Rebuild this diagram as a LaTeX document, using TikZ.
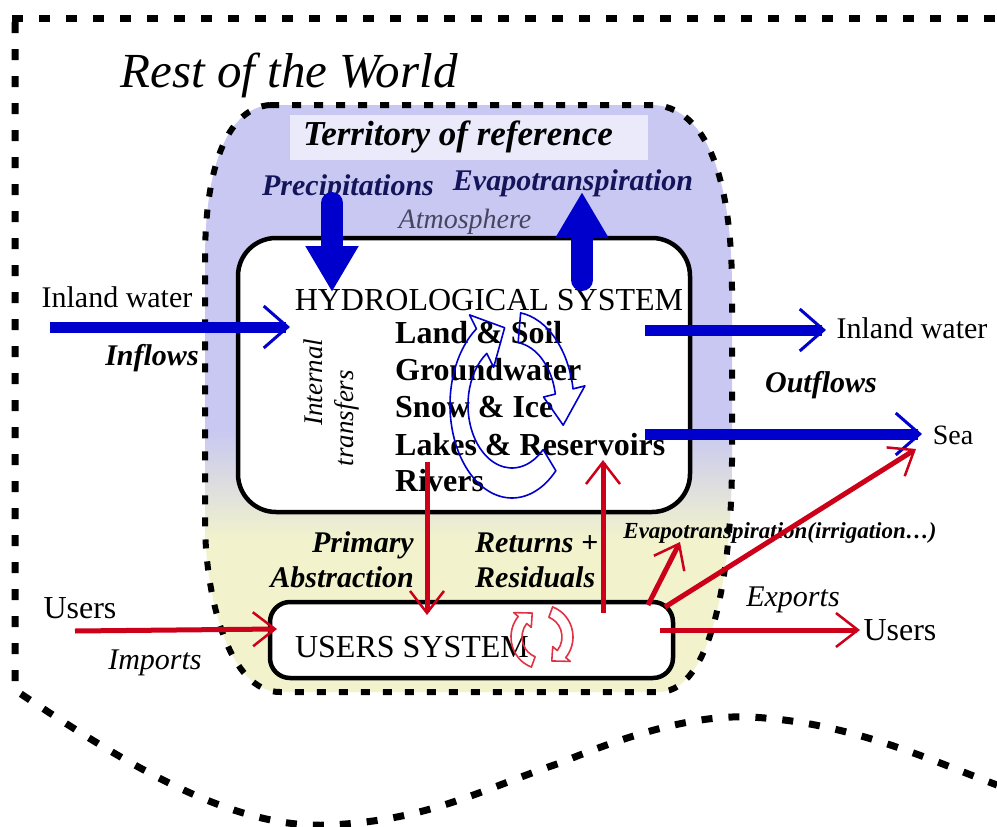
\documentclass[tikz,border=0pt]{standalone}
\usepackage{fontspec}
\setmainfont{Liberation Serif}
\usetikzlibrary{arrows.meta}
\definecolor{lav}{RGB}{200,200,242}
\definecolor{lavlight}{RGB}{234,234,250}
\definecolor{yel}{RGB}{242,243,204}
\definecolor{wblue}{RGB}{0,0,205}
\definecolor{wred}{RGB}{205,0,25}
\definecolor{navy}{RGB}{20,20,90}
\definecolor{atmc}{RGB}{70,70,95}
\definecolor{cycred}{RGB}{225,50,70}
\tikzset{
  txt/.style={inner sep=0pt, text=black},
  outerdash/.style={draw=black, line width=7pt, dash pattern=on 11pt off 16pt},
  terrdash/.style={draw=black, line width=6pt, dash pattern=on 9pt off 13pt},
  sysbox/.style={draw=black, line width=4.5pt, fill=white},
  bluearrow/.style={draw=wblue, line width=11pt, -{Straight Barb[length=24pt,width=42pt,line width=3pt]}},
  fatarrow/.style={draw=wblue, line width=22pt, line cap=round, -{Triangle[length=46pt,width=50pt]}},
  redarrow/.style={draw=wred, line width=5pt, -{Straight Barb[length=22pt,width=34pt,line width=2.5pt]}},
  cycb/.style={draw=wblue, line width=1.6pt, line join=round},
  cycr/.style={draw=cycred, line width=1.6pt, line join=round},
  flowlab/.style={txt, font=\fontsize{30}{35}\selectfont\bfseries\itshape},
  plainlab/.style={txt, font=\fontsize{30}{35}\selectfont},
  syslab/.style={txt, font=\fontsize{32}{36}\selectfont},
  complab/.style={txt, anchor=west, font=\fontsize{32}{36}\selectfont\bfseries},
}
\begin{document}
\begin{tikzpicture}[x=1pt,y=-1pt]
\useasboundingbox (0,0) rectangle (997,827);
\fill[white] (0,0) rectangle (997,827);

% outer boundary (rest of the world)
\draw[outerdash] (12,18) -- (997,18);
\draw[outerdash] (15,22) -- (15,690)
  .. controls (120,760) and (230,830) .. (330,825)
  .. controls (430,820) and (480,790) .. (560,763)
  .. controls (640,730) and (700,715) .. (750,717)
  .. controls (850,722) and (930,760) .. (997,785);

% territory of reference
\begin{scope}
\clip (270,105) -- (655,105) .. controls (715,110) and (732,200) .. (732,290) -- (732,460)
  .. controls (732,560) and (715,690) .. (660,692) -- (280,692)
  .. controls (230,692) and (205,600) .. (205,520) -- (205,260)
  .. controls (205,160) and (230,108) .. (270,105) -- cycle;
\fill[lav] (195,95) rectangle (745,430);
\shade[top color=lav, bottom color=yel] (195,430) rectangle (745,540);
\fill[yel] (195,540) rectangle (745,705);
\end{scope}
\draw[terrdash] (270,105) -- (655,105) .. controls (715,110) and (732,200) .. (732,290) -- (732,460)
  .. controls (732,560) and (715,690) .. (660,692) -- (280,692)
  .. controls (230,692) and (205,600) .. (205,520) -- (205,260)
  .. controls (205,160) and (230,108) .. (270,105) -- cycle;
\fill[lavlight] (290,115) rectangle (648,160);

% system boxes
\node[sysbox, rounded corners=38pt, minimum width=452pt, minimum height=274pt] (hydro) at (464,375) {};
\node[sysbox, rounded corners=20pt, minimum width=403pt, minimum height=76pt] (users) at (471.5,640) {};

% texts
\node[txt, font=\fontsize{49}{54}\selectfont\itshape] (rw) at (289,75) {Rest of the World};
\node[txt, font=\fontsize{35}{40}\selectfont\bfseries\itshape] (terr) at (458,137) {Territory of reference};
\node[txt, text=navy, font=\fontsize{30}{35}\selectfont\bfseries\itshape] (prec) at (348,188) {Precipitations};
\node[txt, text=navy, font=\fontsize{30}{35}\selectfont\bfseries\itshape] (evap) at (573,183) {Evapotranspiration};
\node[txt, text=atmc, font=\fontsize{28}{33}\selectfont\itshape] (atm) at (465,222) {Atmosphere};
\node[syslab] (hs) at (489,300) {HYDROLOGICAL SYSTEM};
\node[complab] (c1) at (395,333) {Land \& Soil};
\node[complab] (c2) at (395,370) {Groundwater};
\node[complab] (c3) at (395,407) {Snow \& Ice};
\node[complab] (c4) at (395,445) {Lakes \& Reservoirs};
\node[complab] (c5) at (395,481) {Rivers};
\node[txt, rotate=90, font=\fontsize{27}{32}\selectfont\itshape] (it1) at (313,382) {Internal};
\node[txt, rotate=90, font=\fontsize{27}{32}\selectfont\itshape] (it2) at (347,418) {transfers};
\node[plainlab] (inl) at (117,297) {Inland water};
\node[flowlab] (infl) at (152,358) {Inflows};
\node[plainlab] (inr) at (912,328) {Inland water};
\node[flowlab] (outf) at (821,385) {Outflows};
\node[txt, font=\fontsize{28}{33}\selectfont] (sea) at (953,435) {Sea};
\node[syslab] (us) at (412,647) {USERS SYSTEM};
\node[txt, font=\fontsize{32}{36}\selectfont] (usl) at (80,608) {Users};
\node[txt, font=\fontsize{30}{35}\selectfont\itshape] (imp) at (155,663) {Imports};
\node[txt, font=\fontsize{32}{36}\selectfont] (usr) at (900,630) {Users};
\node[txt, font=\fontsize{30}{35}\selectfont\itshape] (exp) at (793,600) {Exports};
\node[txt, font=\fontsize{23}{27}\selectfont\bfseries\itshape] (evirr) at (780,533) {Evapotranspiration(irrigation\ldots)};
\node[flowlab, anchor=east, align=right] (pa) at (414,560) {Primary\\Abstraction};
\node[flowlab, anchor=west, align=left] (rr) at (475,560) {Returns +\\Residuals};

% arrow end points
\coordinate (precS) at (332,203); \coordinate (precE) at (332,292);
\coordinate (evS) at (582,280); \coordinate (evE) at (582,192);
\coordinate (infS) at (50,327); \coordinate (infE) at (290,327);
\coordinate (outS) at (645,330); \coordinate (outE) at (826,330);
\coordinate (seaS) at (645,434); \coordinate (seaE) at (922,434);
\coordinate (paS) at (427,462); \coordinate (paE) at (427,615);
\coordinate (rrS) at (603,613); \coordinate (rrE) at (603,460);
\coordinate (eiS) at (648,605); \coordinate (eiE) at (680,542);
\coordinate (rsS) at (665,607); \coordinate (rsE) at (916,449);
\coordinate (expS) at (660,630); \coordinate (expE) at (860,630);
\coordinate (impS) at (75,631); \coordinate (impE) at (277,629);

% blue arrows
\draw[fatarrow] (precS) -- (precE);
\draw[fatarrow] (evS) -- (evE);
\draw[bluearrow] (infS) -- (infE);
\draw[bluearrow] (outS) -- (outE);
\draw[bluearrow] (seaS) -- (seaE);

% red arrows
\draw[redarrow] (paS) -- (paE);
\draw[redarrow] (rrS) -- (rrE);
\draw[redarrow] (eiS) -- (eiE);
\draw[redarrow] (rsS) -- (rsE);
\draw[redarrow] (expS) -- (expE);
\draw[redarrow] (impS) -- (impE);

% blue internal cycle
\begin{scope}[shift={(512,405)}]
\draw[cycb] (45:62 and 93) arc[start angle=45, end angle=235, x radius=62, y radius=93]
  -- (235:74 and 110) -- (262:53 and 78) -- (235:32 and 46) -- (235:44 and 63)
  arc[start angle=235, end angle=45, x radius=44, y radius=63] -- cycle;
\draw[cycb] (278:62 and 93) arc[start angle=278, end angle=350, x radius=62, y radius=93]
  -- (350:74 and 110) -- (15:53 and 78) -- (350:32 and 46) -- (350:44 and 63)
  arc[start angle=350, end angle=278, x radius=44, y radius=63] -- cycle;
\end{scope}

% red users cycle
\begin{scope}[shift={(542,637)}]
\draw[cycr] (110:31 and 32) arc[start angle=110, end angle=220, x radius=31, y radius=32]
  -- (220:37 and 38) -- (247:25 and 26) -- (220:14 and 15) -- (220:20 and 21)
  arc[start angle=220, end angle=110, x radius=20, y radius=21] -- cycle;
\draw[cycr] (290:31 and 32) arc[start angle=290, end angle=400, x radius=31, y radius=32]
  -- (400:37 and 38) -- (427:25 and 26) -- (400:14 and 15) -- (400:20 and 21)
  arc[start angle=400, end angle=290, x radius=20, y radius=21] -- cycle;
\end{scope}
\end{tikzpicture}
\end{document}
